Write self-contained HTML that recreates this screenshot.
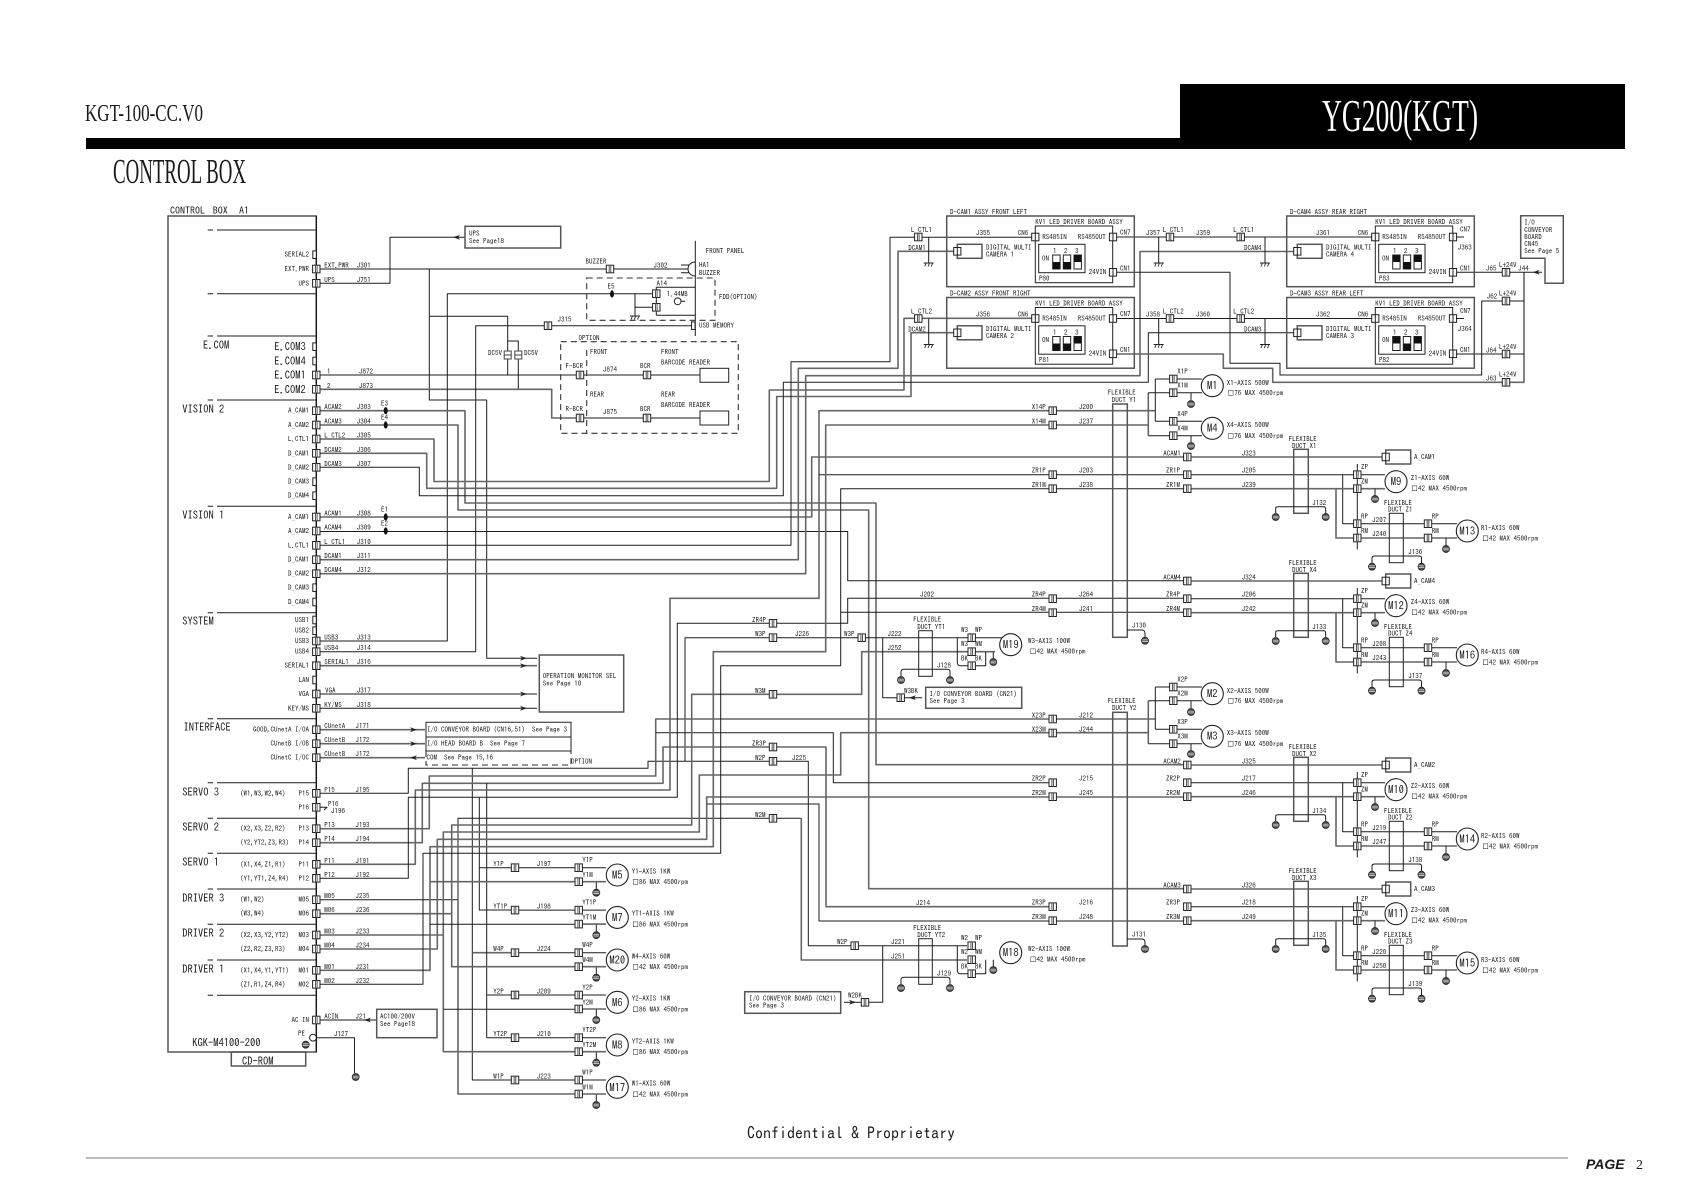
<!DOCTYPE html>
<html><head><meta charset="utf-8"><title>YG200(KGT) Control Box</title>
<style>
html,body{margin:0;padding:0;background:#fff}
svg{display:block}
text{font-family:"IPAGothic","Liberation Mono",monospace;font-size:7px;fill:#1a1a1a;white-space:pre}
.b{font-size:10.5px}
.m{font-size:10.5px;text-anchor:middle}
.e{text-anchor:end}
.w{fill:none;stroke:#1c1c1c;stroke-width:1;stroke-linejoin:round}
.g{fill:none;stroke:#666;stroke-width:1.6;stroke-linejoin:round}
.bx{fill:none;stroke:#555;stroke-width:1.5}
.kx{fill:none;stroke:#222;stroke-width:1}
.d{fill:none;stroke:#333;stroke-width:1.1;stroke-dasharray:6 4}
</style></head><body>
<svg width="1683" height="1190" viewBox="0 0 1683 1190" xmlns="http://www.w3.org/2000/svg">
<defs>
<g id="c"><rect x="-3.7" y="-3.8" width="7.4" height="7.6" fill="#fff" stroke="#222" stroke-width="1"/><path d="M-.8 -3.8V3.8M.8 -3.8V3.8" stroke="#555" stroke-width="1" fill="none"/></g>
<g id="h"><rect x="-3.5" y="-3.8" width="3.5" height="7.6" fill="#fff" stroke="#222"/></g>
<g id="bc"><rect x="-3.6" y="-3.8" width="7.2" height="7.6" fill="#fff" stroke="#222"/><path d="M0 -3.8V3.8" stroke="#222" fill="none"/></g>
<g id="v"><rect x="-3.5" y="-4" width="7" height="8" fill="#fff" stroke="#444"/><path d="M-3.5 0H3.5" stroke="#444" fill="none"/></g>
<g id="gd"><circle r="3.4" fill="#555" stroke="#222"/><path d="M-3 -.8H3M-3 .9H3" stroke="#ddd" stroke-width=".7" fill="none"/></g>
<g id="ht"><path d="M-5 0H5M-4 3.5L-2.5 0M-.7 3.5L.8 0M2.5 3.5L4 0" stroke="#222" stroke-width=".9" fill="none"/></g>
<circle id="mo" r="11" fill="#fff" stroke="#222" stroke-width="1.1"/>
<polygon id="ar" points="4,0 -3,-2.4 -1,0 -3,2.4" fill="#222"/>
<polygon id="al" points="-4,0 3,-2.4 1,0 3,2.4" fill="#222"/>
<g id="st"><rect x="0" y="0" width="7.4" height="14" fill="#fff" stroke="#222"/><rect x="0" y="0" width="7.4" height="7" fill="#111"/></g>
<g id="sb"><rect x="0" y="0" width="7.4" height="14" fill="#fff" stroke="#222"/><rect x="0" y="7" width="7.4" height="7" fill="#111"/></g>
<g id="dc">
<rect class="bx" x="946.7" y="216" width="187.6" height="70.7"/>
<rect class="kx" x="1035.3" y="226" width="77.4" height="56.7" stroke-width="1.3"/>
<rect class="bx" x="957.3" y="244.3" width="24.7" height="14"/>
<rect class="kx" x="1038.7" y="244.3" width="46.3" height="28.4"/>
<use href="#bc" x="957.3" y="251.3"/>
<use href="#bc" x="1035.3" y="237"/>
<use href="#bc" x="1113" y="237"/>
<use href="#bc" x="1113" y="272.3"/>
</g>
<g id="mod">
<path class="g" d="M1187 457H1386"/>
<path class="w" d="M1187 474.7H1385M1342.7 474.7V523.7H1457"/>
<path class="g" d="M1187 488.7H1385M1336 488.7V538H1457"/>
<path class="w" d="M1357.3 464V549.3"/>
<rect class="bx" x="1385.7" y="450" width="25" height="14" fill="none"/>
<use href="#bc" x="1385.7" y="457"/>
<rect class="bx" x="1293.7" y="449.3" width="14.6" height="64"/>
<rect class="kx" x="1389.3" y="513.3" width="14" height="49.4" stroke-width="1.3"/>
<path class="w" d="M1275.7 513V508Q1275.7 506.7 1278 506.7H1324Q1325.7 506.7 1325.7 510V514"/>
<path class="w" d="M1372 563V558Q1372 556 1375 556H1419Q1421.5 556 1421.5 558V563"/>
<path class="w" d="M1375 488.7V496M1446 538V546"/>
<use href="#gd" x="1275.7" y="517"/><use href="#gd" x="1325.7" y="517"/>
<use href="#gd" x="1372" y="566.7"/><use href="#gd" x="1421.5" y="566.7"/>
<use href="#gd" x="1375" y="499"/><use href="#gd" x="1446" y="549"/>
<use href="#c" x="1187.3" y="457"/><use href="#c" x="1052.7" y="474.7"/><use href="#c" x="1052.7" y="488.7"/>
<use href="#c" x="1187.3" y="474.7"/><use href="#c" x="1187.3" y="488.7"/>
<use href="#c" x="1357.3" y="474.7"/><use href="#c" x="1357.3" y="488.7"/>
<use href="#c" x="1357.3" y="523.7"/><use href="#c" x="1357.3" y="538"/>
<use href="#c" x="1428" y="523.7"/><use href="#c" x="1428" y="538"/>
<use href="#mo" x="1396" y="481.7"/><use href="#mo" x="1467.3" y="531"/>
</g>
<g id="xm">
<path class="w" d="M1155.3 379V421.3M1155.3 379H1202M1155.3 421.3H1202"/>
<path class="g" d="M1148.3 392.7V435.7"/>
<path class="w" d="M1148.3 392.7H1202M1148.3 435.7H1202M1191 392.7V400M1191 435.7V442"/>
<use href="#c" x="1173.3" y="379"/><use href="#c" x="1173.3" y="392.7"/><use href="#c" x="1173.3" y="421.3"/><use href="#c" x="1173.3" y="435.7"/>
<use href="#gd" x="1191" y="404"/><use href="#gd" x="1191" y="446"/>
<use href="#mo" x="1212.3" y="385.7"/><use href="#mo" x="1212.3" y="428.3"/>
</g>
<g id="ym">
<path class="w" d="M515 867.7H606M596.3 881.7V889"/>
<path class="g" d="M578.7 881.7H606"/>
<use href="#c" x="515" y="867.7"/><use href="#c" x="578.7" y="867.7"/><use href="#c" x="578.7" y="881.7"/>
<use href="#gd" x="596.3" y="892.7"/><use href="#mo" x="617.3" y="875"/>
</g>
<g id="nm">
<path class="w" d="M957.3 637.7V662Q957.3 665.7 960 665.7H985.7V651.7M993.3 651.7V658"/>
<rect class="kx" x="918.7" y="630.7" width="13.6" height="45.6" stroke-width="1.3"/>
<path class="w" d="M901 676V672Q901 669.3 904 669.3H947Q950 669.3 950 672V676"/>
<use href="#gd" x="901" y="680"/><use href="#gd" x="950" y="680"/><use href="#gd" x="993.3" y="662"/>
<use href="#c" x="971.7" y="637.7"/><use href="#c" x="971.7" y="651.7"/><use href="#c" x="971.7" y="665.7"/>
<use href="#mo" x="1010.7" y="644.7"/>
</g>
</defs>

<rect x="0" y="0" width="1683" height="1190" fill="#fff"/>
<rect x="1180" y="84" width="445" height="65" fill="#000"/>
<rect x="86" y="138" width="1539" height="11" fill="#000"/>
<text x="85" y="121" style="font-family:'Liberation Serif',serif;font-size:24px" textLength="118" lengthAdjust="spacingAndGlyphs">KGT-100-CC.V0</text>
<text x="1322" y="131" style="font-family:'Liberation Serif',serif;font-size:45px;fill:#fff" textLength="156" lengthAdjust="spacingAndGlyphs">YG200(KGT)</text>
<text x="113" y="183" style="font-family:'Liberation Serif',serif;font-size:35px" textLength="133" lengthAdjust="spacingAndGlyphs">CONTROL BOX</text>
<text x="747" y="1139" style="font-size:16px">Confidential &amp; Proprietary</text>
<rect x="86" y="1157" width="1482" height="2" fill="#bbb"/>
<text x="1586" y="1169" style="font-family:'Liberation Sans',sans-serif;font-style:italic;font-weight:bold;font-size:14px">PAGE</text>
<text x="1636" y="1169" style="font-family:'Liberation Serif',serif;font-size:14px">2</text>

<!-- main control box -->
<rect class="bx" x="168" y="216" width="148.3" height="836" stroke-width="2"/>
<path d="M316.3 216V1052" stroke="#111" stroke-width="1.2" fill="none"/>
<rect class="bx" x="231.3" y="1052" width="74.4" height="14"/>
<path class="w" d="M207.7 230H213M217 230H316M207.7 293.7H213M217 293.7H316M207.7 336H213M217 336H316M207.7 400H213M217 400H316M207.7 506.3H213M217 506.3H316M207.7 612.7H213M217 612.7H316M207.7 718.7H213M217 718.7H316M207.7 782.7H213M217 782.7H316M207.7 818.3H213M217 818.3H316M207.7 853.3H213M217 853.3H316M207.7 889H213M217 889H316M207.7 924.3H213M217 924.3H316M207.7 960H213M217 960H316M207.7 995.3H213M217 995.3H316"/>

<!-- wires -->
<path class="g" d="M320 269H688"/>
<path class="w" d="M429.3 269V400H486.7V658.3H537M429.3 316.3H507.7V375M320 283.3H390V237.3H465M320 375H700M518.3 389.3V341H507.7"/>
<path class="g" d="M320 389.3H551.7V418H700"/>
<path class="w" d="M320 641H447.3V293.7H656M635 293.7V307.3H656M635 307.3V316M320 651.7H475.7V325.7H693"/>
<path class="g" d="M320 665.7H537M320 694H537"/>
<path class="w" d="M320 708.3H537"/>
<path class="g" d="M320 410.7H465V503H876V764.7H1187"/>
<path class="g" d="M320 425H458V510H868.7V888.7H1187"/>
<path class="g" d="M320 439H434V481.5H769.3V390H904V318.3H1035"/>
<path class="g" d="M320 453.3H426.7V488.3H776.7V396.5H911V332.7H957"/>
<path class="w" d="M320 467.3H419.3V495.7H783.3V382.3H1148.3V332.7H1297"/>
<path class="g" d="M320 517H811.7V457H1187"/>
<path class="w" d="M320 531.5H847.7V580.7H1187"/>
<path class="w" d="M320 545.3H791V361.7H890V237.3H1035"/>
<path class="g" d="M320 559.7H798.3V368.3H898V251.3H957"/>
<path class="g" d="M320 573.7H805.7V375.7H1140V251.5H1297"/>
<path class="w" d="M1113 237H1375M1113 318.5H1375"/>
<path class="w" d="M928.7 237V263M1158.7 237V263M1265 237V263M928.7 318.5V344.5M1158.7 318.5V344.5M1265 318.5V344.5"/>
<path class="w" d="M1116 272.3H1230V363.3H1280V375H1481.7V301H1506"/>
<path class="g" d="M1116 354H1223.3V368.3H1272.7V382.3H1524V272.3"/>
<path class="w" d="M1456 272.3H1542M1456 354H1524M1506 301H1524"/>
<path class="g" d="M320 729.7H425M320 743.7H425M320 757.7H425"/>
<path class="w" d="M320 793.3H408.3V768.3H648V761.3H808.3V945.7H967M472.3 768.3V1080H578M685 761.3V637.7H1005"/>
<path class="g" d="M472.3 952.7H515"/>
<path class="g" d="M320 828.7H429.3V776H655.7V719H1155.3"/>
<path class="w" d="M655.7 732.7H833.3V782.7H1052"/>
<path class="g" d="M320 842.7H422.3V783.3H663V747H826V906.7H1052"/>
<path class="w" d="M486.7 783.3V1037.7H515M486.7 995H515"/>
<path class="g" d="M320 864.3H415.3V790H670V598.3H819V410.7H1155.3"/>
<path class="w" d="M819 474.7H1187M320 878.3H408.3V797.3H677.3V623.3H847.7V598.3H1187"/>
<path class="w" d="M479.3 797.3V910H515M479.3 867.7H515"/>
<path class="w" d="M320 899.7H458V818.3H801.3"/>
<path class="g" d="M801.3 818.3V960H967M458 899.7V1094H578"/>
<path class="g" d="M320 913.7H451.7V825H691.7V694.3H861.7V651.7H995M451.7 913.7V966.7H578"/>
<path class="g" d="M320 935H443.3V832H699.3V775H840.7V732.7H1148.3M443.3 935V1051.7H578"/>
<path class="w" d="M443.3 1009.3H578"/>
<path class="g" d="M320 949H437.3V839.3H706.7V797H1187"/>
<path class="w" d="M706.7 804H819V921H1052"/>
<path class="g" d="M1052 921H1187M320 970.3H430V846.7H713.3V651.7H825.7V425H1148.3M430 881.7H578"/>
<path class="w" d="M430 924.3H578M320 984.3H423V853.3H720.7V665.7H840.7V488.7H1187M840.7 612.3H1187"/>
<path class="w" d="M882.7 637.7V697.7H922M882.7 945.7V1002.3H860"/>
<path class="g" d="M320 1020H376"/>
<path class="w" d="M316 1037.7H354.5V1073"/>
<path class="w" d="M320 807.3H327L324 810"/>

<!-- front panel / FDD -->
<path class="w" d="M695.3 240.7V336M656.3 287.3V315.3M656.3 287.3H695M656.3 315.3H695M681 265H689M681 272.7H689M695 262A7 7 0 0 0 695 276M681 301.3H685M681 301.3"/>
<circle cx="677.7" cy="301.3" r="3.4" fill="#fff" stroke="#222"/>
<ellipse cx="612" cy="294" rx="2" ry="3.6" fill="#111"/>
<use href="#ht" x="635" y="316"/>
<rect class="d" x="586.7" y="278" width="128.3" height="42.3"/>
<rect class="d" x="560.7" y="341.7" width="177.6" height="91.6" stroke-dasharray="5 4"/>
<path class="d" d="M586.7 350V433" stroke-dasharray="4 4"/>
<rect class="kx" x="700" y="368.3" width="28.7" height="14" stroke-width="1.2"/>
<rect class="kx" x="700" y="411" width="28.7" height="14" stroke-width="1.2"/>
<use href="#c" x="610" y="269"/><use href="#c" x="656.3" y="293.7"/><use href="#c" x="656.3" y="307.3"/>
<use href="#c" x="548" y="325.7"/><use href="#h" x="695" y="325.7"/>
<use href="#c" x="580" y="375"/><use href="#c" x="647" y="375"/><use href="#c" x="580" y="418"/><use href="#c" x="647" y="418"/>
<use href="#v" x="507.7" y="355"/><use href="#v" x="518.3" y="355"/>
<!-- ellipse fuses -->
<ellipse cx="385.7" cy="410.7" rx="2" ry="3.6" fill="#111"/><ellipse cx="385.7" cy="425" rx="2" ry="3.6" fill="#111"/><ellipse cx="385.7" cy="517" rx="2" ry="3.6" fill="#111"/><ellipse cx="385.7" cy="531" rx="2" ry="3.6" fill="#111"/>

<!-- other boxes -->
<rect class="bx" x="465" y="226.3" width="95.7" height="21.7"/>
<rect class="bx" x="539.3" y="655" width="84.4" height="57"/>
<path class="kx" d="M426 751V722.3H571V751M426 737H571M426 751H571"/>
<path class="d" d="M426 751V765H571V751" stroke-dasharray="5 5"/>
<rect class="bx" x="376.7" y="1009.3" width="60.3" height="28.4"/>
<rect class="bx" x="925.7" y="687.3" width="96" height="21"/>
<rect class="bx" x="744.7" y="991.7" width="96" height="21.6"/>
<path class="bx" d="M1520.7 215.7H1563.3V283.3H1545V258.3H1520.7Z"/>
<path class="w" d="M844 1002.3H860"/>
<use href="#ar" x="852" y="1002.3"/><use href="#al" x="913" y="697.7"/>
<use href="#al" x="457" y="237.3"/><use href="#ar" x="523" y="658.3"/><use href="#ar" x="523" y="665.7"/><use href="#ar" x="523" y="694"/><use href="#ar" x="523" y="708.3"/>
<use href="#ar" x="413" y="729.7"/><use href="#ar" x="413" y="743.7"/><use href="#al" x="414" y="757.7"/><use href="#al" x="368" y="1020"/><use href="#al" x="1536.7" y="272.3"/>

<!-- D-CAM boards -->
<use href="#dc"/><use href="#dc" y="81.5"/><use href="#dc" x="340"/><use href="#dc" x="340" y="81.5"/>
<use href="#sb" x="1052.7" y="255"/><use href="#sb" x="1063.3" y="255"/><use href="#st" x="1074" y="255"/>
<use href="#sb" x="1052.7" y="336.5"/><use href="#sb" x="1063.3" y="336.5"/><use href="#st" x="1074" y="336.5"/>
<use href="#st" x="1392.7" y="255"/><use href="#sb" x="1403.3" y="255"/><use href="#st" x="1414" y="255"/>
<use href="#st" x="1392.7" y="336.5"/><use href="#sb" x="1403.3" y="336.5"/><use href="#st" x="1414" y="336.5"/>
<path class="w" d="M1456 237H1464M1456 318.5H1464"/>
<use href="#c" x="918.3" y="237"/><use href="#c" x="918.3" y="318.5"/><use href="#c" x="1170" y="237"/><use href="#c" x="1170" y="318.5"/><use href="#c" x="1240.7" y="237"/><use href="#c" x="1240.7" y="318.5"/>
<use href="#c" x="1506" y="272.3"/><use href="#c" x="1506" y="301"/><use href="#c" x="1506" y="354"/><use href="#c" x="1506" y="382.3"/>
<use href="#ht" x="928.7" y="263"/><use href="#ht" x="1158.7" y="263"/><use href="#ht" x="1265" y="263"/><use href="#ht" x="928.7" y="344.5"/><use href="#ht" x="1158.7" y="344.5"/><use href="#ht" x="1265" y="344.5"/>

<!-- ducts Y -->
<rect class="bx" x="1112.7" y="404" width="14.6" height="233.3"/>
<rect class="bx" x="1112.7" y="712.3" width="14.6" height="233.7"/>
<path class="w" d="M1127 630H1142Q1145 630 1145 634V637M1127 939H1142Q1145 939 1145 943V946"/>
<use href="#gd" x="1145" y="640.7"/><use href="#gd" x="1145" y="949"/>
<use href="#c" x="1052.7" y="410.7"/><use href="#c" x="1052.7" y="425"/><use href="#c" x="1052.7" y="719"/><use href="#c" x="1052.7" y="733"/>
<use href="#xm"/><use href="#xm" y="308"/>
<use href="#mod"/><use href="#mod" y="124"/><use href="#mod" y="308"/><use href="#mod" y="432"/>
<use href="#ym"/><use href="#ym" y="42.4"/><use href="#ym" y="85"/><use href="#ym" y="127.3"/><use href="#ym" y="170"/><use href="#ym" y="212.3"/>
<use href="#nm"/><use href="#nm" y="308"/>
<use href="#c" x="773" y="623.3"/><use href="#c" x="773" y="637.7"/><use href="#c" x="773" y="694.3"/><use href="#c" x="773" y="747"/><use href="#c" x="773" y="761.3"/><use href="#c" x="773" y="818.3"/>
<use href="#c" x="861.7" y="637.7"/><use href="#c" x="854.7" y="945.7"/><use href="#c" x="900.7" y="697.7"/><use href="#c" x="865" y="1002.3"/>

<!-- pins -->
<use href="#h" x="316.3" y="254.7"/><use href="#c" x="316.3" y="269"/><use href="#c" x="316.3" y="283.3"/>
<use href="#h" x="316.3" y="346.7"/><use href="#h" x="316.3" y="361"/><use href="#c" x="316.3" y="375"/><use href="#c" x="316.3" y="389.3"/>
<use href="#c" x="316.3" y="410.7"/><use href="#c" x="316.3" y="425"/><use href="#c" x="316.3" y="439"/><use href="#c" x="316.3" y="453.3"/><use href="#c" x="316.3" y="467.3"/><use href="#h" x="316.3" y="481.7"/><use href="#h" x="316.3" y="495.7"/>
<use href="#c" x="316.3" y="517"/><use href="#c" x="316.3" y="531"/><use href="#c" x="316.3" y="545.3"/><use href="#c" x="316.3" y="559.7"/><use href="#c" x="316.3" y="573.7"/><use href="#h" x="316.3" y="587.7"/><use href="#h" x="316.3" y="602"/>
<use href="#h" x="316.3" y="620"/><use href="#h" x="316.3" y="630.7"/><use href="#c" x="316.3" y="641"/><use href="#c" x="316.3" y="651.7"/><use href="#c" x="316.3" y="665.7"/><use href="#h" x="316.3" y="680"/><use href="#c" x="316.3" y="694"/><use href="#c" x="316.3" y="708.3"/>
<use href="#c" x="316.3" y="729.7"/><use href="#c" x="316.3" y="743.7"/><use href="#c" x="316.3" y="757.7"/>
<use href="#c" x="316.3" y="793.3"/><use href="#c" x="316.3" y="807.3"/><use href="#c" x="316.3" y="828.7"/><use href="#c" x="316.3" y="842.7"/><use href="#c" x="316.3" y="864.3"/><use href="#c" x="316.3" y="878.3"/>
<use href="#c" x="316.3" y="899.7"/><use href="#c" x="316.3" y="913.7"/><use href="#c" x="316.3" y="935"/><use href="#c" x="316.3" y="949"/><use href="#c" x="316.3" y="970.3"/><use href="#c" x="316.3" y="984.3"/>
<use href="#c" x="316.3" y="1020"/>
<circle cx="313" cy="1037.7" r="3.4" fill="#fff" stroke="#222"/>
<use href="#gd" x="305.7" y="1044.7"/><use href="#gd" x="355.7" y="1077"/>

<!-- left panel labels -->
<text x="170" y="214" style="font-size:10px">CONTROL</text><text x="212.7" y="214" style="font-size:10px">BOX</text><text x="239" y="214" style="font-size:10px">A1</text>
<text class="b" x="203" y="349">E.COM</text>
<text class="b" x="182.3" y="413">VISION 2</text>
<text class="b" x="182.3" y="519">VISION 1</text>
<text class="b" x="182.3" y="625">SYSTEM</text>
<text class="b" x="183.5" y="731">INTERFACE</text>
<text class="b" x="182.3" y="796">SERVO 3</text>
<text class="b" x="182.3" y="831">SERVO 2</text>
<text class="b" x="182.3" y="866">SERVO 1</text>
<text class="b" x="182.3" y="902">DRIVER 3</text>
<text class="b" x="182.3" y="937">DRIVER 2</text>
<text class="b" x="182.3" y="973">DRIVER 1</text>
<text class="b" x="192.3" y="1046.5">KGK-M4100-200</text>
<text class="b" x="242" y="1065">CD-ROM</text>
<g class="e">
<text class="e" x="309" y="257.2">SERIAL2</text><text class="e" x="309" y="271.5">EXT.PWR</text><text class="e" x="309" y="285.8">UPS</text>
<text class="b e" x="305.7" y="350.7">E.COM3</text><text class="b e" x="305.7" y="365">E.COM4</text><text class="b e" x="305.7" y="379">E.COM1</text><text class="b e" x="305.7" y="393.3">E.COM2</text>
<text class="e" x="309" y="413.2">A_CAM1</text><text class="e" x="309" y="427.5">A_CAM2</text><text class="e" x="309" y="441.5">L.CTL1</text><text class="e" x="309" y="455.8">D_CAM1</text><text class="e" x="309" y="469.8">D_CAM2</text><text class="e" x="309" y="484.2">D_CAM3</text><text class="e" x="309" y="498.2">D_CAM4</text>
<text class="e" x="309" y="519.5">A_CAM1</text><text class="e" x="309" y="533.5">A_CAM2</text><text class="e" x="309" y="547.8">L.CTL1</text><text class="e" x="309" y="562.2">D_CAM1</text><text class="e" x="309" y="576.2">D_CAM2</text><text class="e" x="309" y="590.2">D_CAM3</text><text class="e" x="309" y="604.5">D_CAM4</text>
<text class="e" x="309" y="622.5">USB1</text><text class="e" x="309" y="633.2">USB2</text><text class="e" x="309" y="643.5">USB3</text><text class="e" x="309" y="654.2">USB4</text><text class="e" x="309" y="668.2">SERIAL1</text><text class="e" x="309" y="682.5">LAN</text><text class="e" x="309" y="696.5">VGA</text><text class="e" x="309" y="710.8">KEY/MS</text>
<text class="e" x="309" y="732.2">GOOD,CUnetA I/OA</text><text class="e" x="309" y="746.2">CUnetB I/OB</text><text class="e" x="309" y="760.2">CUnetC I/OC</text>
<text class="e" x="309" y="795.8">P15</text><text class="e" x="309" y="809.8">P16</text><text class="e" x="309" y="831.2">P13</text><text class="e" x="309" y="845.2">P14</text><text class="e" x="309" y="866.8">P11</text><text class="e" x="309" y="880.8">P12</text>
<text class="e" x="309" y="902.2">M05</text><text class="e" x="309" y="916.2">M06</text><text class="e" x="309" y="937.5">M03</text><text class="e" x="309" y="951.5">M04</text><text class="e" x="309" y="972.8">M01</text><text class="e" x="309" y="986.8">M02</text>
<text class="e" x="309" y="1022.5">AC IN</text><text class="e" x="305" y="1036">PE</text>
</g>
<text x="240" y="795.8">(W1,W3,W2,W4)</text><text x="240" y="831.2">(X2,X3,Z2,R2)</text><text x="240" y="845.2">(Y2,YT2,Z3,R3)</text><text x="240" y="866.8">(X1,X4,Z1,R1)</text><text x="240" y="880.8">(Y1,YT1,Z4,R4)</text>
<text x="240" y="902.2">(W1,W2)</text><text x="240" y="916.2">(W3,W4)</text><text x="240" y="937.5">(X2,X3,Y2,YT2)</text><text x="240" y="951.5">(Z2,R2,Z3,R3)</text><text x="240" y="972.8">(X1,X4,Y1,YT1)</text><text x="240" y="986.8">(Z1,R1,Z4,R4)</text>

<!-- wire labels left -->
<text x="324.3" y="268">EXT.PWR</text><text x="356.7" y="268">J301</text>
<text x="324.3" y="282.3">UPS</text><text x="356.7" y="282.3">J751</text>
<text x="327" y="374">1</text><text x="359" y="374">J872</text><text x="327" y="388.3">2</text><text x="359" y="388.3">J873</text>
<text x="324.3" y="409.7">ACAM2</text><text x="356.7" y="409.7">J303</text><text x="381" y="406">E3</text>
<text x="324.3" y="424">ACAM3</text><text x="356.7" y="424">J304</text><text x="381" y="420">E4</text>
<text x="324.3" y="438">L_CTL2</text><text x="356.7" y="438">J305</text>
<text x="324.3" y="452.3">DCAM2</text><text x="356.7" y="452.3">J306</text>
<text x="324.3" y="466.3">DCAM3</text><text x="356.7" y="466.3">J307</text>
<text x="324.3" y="516">ACAM1</text><text x="356.7" y="516">J308</text><text x="381" y="512">E1</text>
<text x="324.3" y="530">ACAM4</text><text x="356.7" y="530">J309</text><text x="381" y="526">E2</text>
<text x="324.3" y="544.3">L_CTL1</text><text x="356.7" y="544.3">J310</text>
<text x="324.3" y="558.7">DCAM1</text><text x="356.7" y="558.7">J311</text>
<text x="324.3" y="572.7">DCAM4</text><text x="356.7" y="572.7">J312</text>
<text x="324.3" y="640">USB3</text><text x="356.7" y="640">J313</text>
<text x="324.3" y="650.7">USB4</text><text x="356.7" y="650.7">J314</text>
<text x="324.3" y="664.7">SERIAL1</text><text x="356.7" y="664.7">J316</text>
<text x="325" y="693">VGA</text><text x="356.7" y="693">J317</text>
<text x="324.3" y="707.3">KY/MS</text><text x="356.7" y="707.3">J318</text>
<text x="324.3" y="728.7">CUnetA</text><text x="355.5" y="728.7">J171</text>
<text x="324.3" y="742.7">CUnetB</text><text x="355.5" y="742.7">J172</text>
<text x="324.3" y="756.7">CUnetB</text><text x="355.5" y="756.7">J172</text>
<text x="324.3" y="792.3">P15</text><text x="355.5" y="792.3">J195</text>
<text x="328" y="806.5">P16</text><text x="331" y="813.5">J196</text>
<text x="324.3" y="827.7">P13</text><text x="355.5" y="827.7">J193</text>
<text x="324.3" y="841.7">P14</text><text x="355.5" y="841.7">J194</text>
<text x="324.3" y="863.3">P11</text><text x="355.5" y="863.3">J191</text>
<text x="324.3" y="877.3">P12</text><text x="355.5" y="877.3">J192</text>
<text x="324.3" y="898.7">M05</text><text x="355.5" y="898.7">J235</text>
<text x="324.3" y="912.7">M06</text><text x="355.5" y="912.7">J236</text>
<text x="324.3" y="934">M03</text><text x="355.5" y="934">J233</text>
<text x="324.3" y="948">M04</text><text x="355.5" y="948">J234</text>
<text x="324.3" y="969.3">M01</text><text x="355.5" y="969.3">J231</text>
<text x="324.3" y="983.3">M02</text><text x="355.5" y="983.3">J232</text>
<text x="324.3" y="1019">ACIN</text><text x="355.5" y="1019">J21</text>
<text x="334" y="1036.7">J127</text>

<!-- boxes text -->
<text x="469" y="236">UPS</text><text x="469" y="243.5">See Page18</text>
<text x="542.7" y="678.5">OPERATION MONITOR SEL</text><text x="542.7" y="686">See Page 10</text>
<text x="427" y="732.2">I/O CONVEYOR BOARD (CN16,51)  See Page 3</text>
<text x="427" y="746.2">I/O HEAD BOARD B  See Page 7</text>
<text x="426.5" y="760.2">COM  See Page 15,16</text>
<text x="571" y="764">OPTION</text>
<text x="380" y="1019">AC100/200V</text><text x="380" y="1026.5">See Page18</text>
<text x="929.5" y="696.5">I/O CONVEYOR BOARD (CN21)</text><text x="929.5" y="703.5">See Page 3</text>
<text x="749" y="1001">I/O CONVEYOR BOARD (CN21)</text><text x="749" y="1008">See Page 3</text>
<text x="1524.3" y="225">I/O</text><text x="1524.3" y="232.5">CONVEYOR</text><text x="1524.3" y="239.5">BOARD</text><text x="1524.3" y="246.5">CN45</text><text x="1524.3" y="253.5">See Page 5</text>

<text x="705.7" y="253.5">FRONT PANEL</text><text x="699" y="267.5">HA1</text><text x="699" y="275.5">BUZZER</text><text x="719" y="299.5">FDD(OPTION)</text><text x="699" y="328">USB MEMORY</text><text x="666.7" y="296.5">1.44MB</text><text x="656.5" y="286">A14</text><text x="607.5" y="289">E5</text><text x="585.5" y="264">BUZZER</text><text x="653.5" y="268">J302</text><text x="557.5" y="322">J315</text>
<text x="575" y="340.5">_OPTION_</text><text x="590" y="354.5">FRONT</text><text x="661" y="354.5">FRONT</text><text x="661" y="365">BARCODE READER</text><text x="565.5" y="368.5">F-BCR</text><text x="603" y="372">J874</text><text x="640" y="368.5">BCR</text>
<text x="590" y="397">REAR</text><text x="661" y="397">REAR</text><text x="661" y="407.5">BARCODE READER</text><text x="565.5" y="411.5">R-BCR</text><text x="603" y="414.5">J875</text><text x="640" y="411.5">BCR</text>
<text x="488" y="355.5">DC5V</text><text x="524" y="355.5">DC5V</text>

<!-- D-CAM labels -->
<g>
<text x="950" y="214.5">D-CAM1 ASSY FRONT LEFT</text><text x="1035.3" y="224.5">KV1 LED_DRIVER BOARD ASSY</text><text x="976" y="235.5">J355</text><text x="1017.7" y="235.5">CN6</text><text x="1042.3" y="239.5">RS485IN</text><text x="1077.7" y="239.5">RS485OUT</text><text x="1120" y="235">CN7</text><text x="986" y="250">DIGITAL MULTI</text><text x="986" y="257">CAMERA 1</text><text x="1042" y="261">ON</text><text x="1053" y="253.5">1</text><text x="1064" y="253.5">2</text><text x="1075" y="253.5">3</text><text x="1039" y="281">P80</text><text x="1088.7" y="274.5">24VIN</text><text x="1120" y="271">CN1</text>
<text x="911" y="232.5">L_CTL1</text><text x="908.3" y="250.5">DCAM1</text><text x="1146" y="235.7">J357</text><text x="1162.7" y="232.5">L_CTL1</text><text x="1196" y="235.5">J359</text><text x="1233.3" y="232.5">L_CTL1</text><text x="1244" y="250.5">DCAM4</text>
</g>
<g transform="translate(0,81.5)">
<text x="950" y="214.5">D-CAM2 ASSY FRONT RIGHT</text><text x="1035.3" y="224.5">KV1 LED_DRIVER BOARD ASSY</text><text x="976" y="235.5">J356</text><text x="1017.7" y="235.5">CN6</text><text x="1042.3" y="239.5">RS485IN</text><text x="1077.7" y="239.5">RS485OUT</text><text x="1120" y="235">CN7</text><text x="986" y="250">DIGITAL MULTI</text><text x="986" y="257">CAMERA 2</text><text x="1042" y="261">ON</text><text x="1053" y="253.5">1</text><text x="1064" y="253.5">2</text><text x="1075" y="253.5">3</text><text x="1039" y="281">P81</text><text x="1088.7" y="274.5">24VIN</text><text x="1120" y="271">CN1</text>
<text x="911" y="232.5">L_CTL2</text><text x="908.3" y="250.5">DCAM2</text><text x="1146" y="235.7">J358</text><text x="1162.7" y="232.5">L_CTL2</text><text x="1196" y="235.5">J360</text><text x="1233.3" y="232.5">L_CTL2</text><text x="1244" y="250.5">DCAM3</text>
</g>
<g transform="translate(340,0)">
<text x="950" y="214.5">D-CAM4 ASSY REAR RIGHT</text><text x="1035.3" y="224.5">KV1 LED_DRIVER BOARD ASSY</text><text x="976" y="235.5">J361</text><text x="1017.7" y="235.5">CN6</text><text x="1042.3" y="239.5">RS485IN</text><text x="1077.7" y="239.5">RS485OUT</text><text x="1120" y="232">CN7</text><text x="1117.7" y="250">J363</text><text x="986" y="250">DIGITAL MULTI</text><text x="986" y="257">CAMERA 4</text><text x="1042" y="261">ON</text><text x="1053" y="253.5">1</text><text x="1064" y="253.5">2</text><text x="1075" y="253.5">3</text><text x="1039" y="281">P83</text><text x="1088.7" y="274.5">24VIN</text><text x="1120" y="271">CN1</text>
</g>
<g transform="translate(340,81.5)">
<text x="950" y="214.5">D-CAM3 ASSY REAR LEFT</text><text x="1035.3" y="224.5">KV1 LED_DRIVER BOARD ASSY</text><text x="976" y="235.5">J362</text><text x="1017.7" y="235.5">CN6</text><text x="1042.3" y="239.5">RS485IN</text><text x="1077.7" y="239.5">RS485OUT</text><text x="1120" y="232">CN7</text><text x="1117.7" y="250">J364</text><text x="986" y="250">DIGITAL MULTI</text><text x="986" y="257">CAMERA 3</text><text x="1042" y="261">ON</text><text x="1053" y="253.5">1</text><text x="1064" y="253.5">2</text><text x="1075" y="253.5">3</text><text x="1039" y="281">P82</text><text x="1088.7" y="274.5">24VIN</text><text x="1120" y="271">CN1</text>
</g>
<text x="1486" y="271">J65</text><text x="1499" y="267.5">L+24V</text><text x="1518.3" y="271">J44</text><text x="1486.7" y="299">J62</text><text x="1499" y="296">L+24V</text><text x="1486" y="353">J64</text><text x="1499" y="349.7">L+24V</text><text x="1486" y="381">J63</text><text x="1499" y="377">L+24V</text>

<!-- X / Y1 labels -->
<text x="1031.7" y="409.7">X14P</text><text x="1079" y="409.7">J200</text><text x="1031.7" y="424">X14M</text><text x="1079" y="424">J237</text>
<text x="1107.7" y="395.2">FLEXIBLE</text><text x="1111.7" y="402.5">DUCT Y1</text><text x="1132" y="628">J130</text>
<text x="1031.7" y="718">X23P</text><text x="1079" y="718">J212</text><text x="1031.7" y="732">X23M</text><text x="1079" y="732">J244</text>
<text x="1107.7" y="703.5">FLEXIBLE</text><text x="1112" y="710.5">DUCT Y2</text><text x="1132" y="937">J131</text>
<g>
<text x="1177.3" y="374">X1P</text><text x="1177.3" y="388">X1M</text><text x="1177.3" y="416.5">X4P</text><text x="1177.3" y="431">X4M</text>
<text class="m" x="1212.3" y="389.5">M1</text><text class="m" x="1212.3" y="432">M4</text>
<text x="1226.7" y="385.5">X1-AXIS 500W</text><text x="1227.3" y="395.5">□76 MAX 4500rpm</text><text x="1226.7" y="427.5">X4-AXIS 500W</text><text x="1227.3" y="438.5">□76 MAX 4500rpm</text>
</g>
<g transform="translate(0,308)">
<text x="1177.3" y="374">X2P</text><text x="1177.3" y="388">X2M</text><text x="1177.3" y="416.5">X3P</text><text x="1177.3" y="431">X3M</text>
<text class="m" x="1212.3" y="389.5">M2</text><text class="m" x="1212.3" y="432">M3</text>
<text x="1226.7" y="385.5">X2-AXIS 500W</text><text x="1227.3" y="395.5">□76 MAX 4500rpm</text><text x="1226.7" y="427.5">X3-AXIS 500W</text><text x="1227.3" y="438.5">□76 MAX 4500rpm</text>
</g>

<!-- Z/R modules labels -->
<g>
<text x="1163.3" y="456">ACAM1</text><text x="1241.7" y="456">J323</text><text x="1166" y="473">ZR1P</text><text x="1241.7" y="473">J205</text><text x="1166" y="487.5">ZR1M</text><text x="1241.7" y="487.5">J239</text>
<text x="1031.7" y="473">ZR1P</text><text x="1079" y="473">J203</text><text x="1031.7" y="487.5">ZR1M</text><text x="1079" y="487.5">J238</text>
<text x="1288.7" y="441.5">FLEXIBLE</text><text x="1292" y="448.5">DUCT X1</text><text x="1312.3" y="505.5">J132</text><text x="1414" y="459.5">A_CAM1</text>
<text x="1361" y="469.5">ZP</text><text x="1361" y="484">ZM</text><text x="1361" y="519">RP</text><text x="1361" y="533.5">RM</text><text x="1372.3" y="522.5">J207</text><text x="1372.3" y="536.5">J240</text><text x="1431.7" y="519">RP</text><text x="1431.7" y="533.5">RM</text><text x="1408.3" y="554.5">J136</text>
<text x="1384" y="505.5">FLEXIBLE</text><text x="1388" y="512">DUCT Z1</text>
<text class="m" x="1396" y="485.5">M9</text><text class="m" x="1467.3" y="534.8">M13</text>
<text x="1410.7" y="480.5">Z1-AXIS 60W</text><text x="1411" y="491">□42 MAX 4500rpm</text><text x="1481" y="530.5">R1-AXIS 60W</text><text x="1482" y="541">□42 MAX 4500rpm</text>
</g>
<g transform="translate(0,124)">
<text x="1163.3" y="456">ACAM4</text><text x="1241.7" y="456">J324</text><text x="1166" y="473">ZR4P</text><text x="1241.7" y="473">J206</text><text x="1166" y="487.5">ZR4M</text><text x="1241.7" y="487.5">J242</text>
<text x="1031.7" y="473">ZR4P</text><text x="1079" y="473">J264</text><text x="1031.7" y="487.5">ZR4M</text><text x="1079" y="487.5">J241</text>
<text x="1288.7" y="441.5">FLEXIBLE</text><text x="1292" y="448.5">DUCT X4</text><text x="1312.3" y="505.5">J133</text><text x="1414" y="459.5">A_CAM4</text>
<text x="1361" y="469.5">ZP</text><text x="1361" y="484">ZM</text><text x="1361" y="519">RP</text><text x="1361" y="533.5">RM</text><text x="1372.3" y="522.5">J208</text><text x="1372.3" y="536.5">J243</text><text x="1431.7" y="519">RP</text><text x="1431.7" y="533.5">RM</text><text x="1408.3" y="554.5">J137</text>
<text x="1384" y="505.5">FLEXIBLE</text><text x="1388" y="512">DUCT Z4</text>
<text class="m" x="1396" y="485.5">M12</text><text class="m" x="1467.3" y="534.8">M16</text>
<text x="1410.7" y="480.5">Z4-AXIS 60W</text><text x="1411" y="491">□42 MAX 4500rpm</text><text x="1481" y="530.5">R4-AXIS 60W</text><text x="1482" y="541">□42 MAX 4500rpm</text>
</g>
<g transform="translate(0,308)">
<text x="1163.3" y="456">ACAM2</text><text x="1241.7" y="456">J325</text><text x="1166" y="473">ZR2P</text><text x="1241.7" y="473">J217</text><text x="1166" y="487.5">ZR2M</text><text x="1241.7" y="487.5">J246</text>
<text x="1031.7" y="473">ZR2P</text><text x="1079" y="473">J215</text><text x="1031.7" y="487.5">ZR2M</text><text x="1079" y="487.5">J245</text>
<text x="1288.7" y="441.5">FLEXIBLE</text><text x="1292" y="448.5">DUCT X2</text><text x="1312.3" y="505.5">J134</text><text x="1414" y="459.5">A_CAM2</text>
<text x="1361" y="469.5">ZP</text><text x="1361" y="484">ZM</text><text x="1361" y="519">RP</text><text x="1361" y="533.5">RM</text><text x="1372.3" y="522.5">J219</text><text x="1372.3" y="536.5">J247</text><text x="1431.7" y="519">RP</text><text x="1431.7" y="533.5">RM</text><text x="1408.3" y="554.5">J138</text>
<text x="1384" y="505.5">FLEXIBLE</text><text x="1388" y="512">DUCT Z2</text>
<text class="m" x="1396" y="485.5">M10</text><text class="m" x="1467.3" y="534.8">M14</text>
<text x="1410.7" y="480.5">Z2-AXIS 60W</text><text x="1411" y="491">□42 MAX 4500rpm</text><text x="1481" y="530.5">R2-AXIS 60W</text><text x="1482" y="541">□42 MAX 4500rpm</text>
</g>
<g transform="translate(0,432)">
<text x="1163.3" y="456">ACAM3</text><text x="1241.7" y="456">J326</text><text x="1166" y="473">ZR3P</text><text x="1241.7" y="473">J218</text><text x="1166" y="487.5">ZR3M</text><text x="1241.7" y="487.5">J249</text>
<text x="1031.7" y="473">ZR3P</text><text x="1079" y="473">J216</text><text x="1031.7" y="487.5">ZR3M</text><text x="1079" y="487.5">J248</text>
<text x="1288.7" y="441.5">FLEXIBLE</text><text x="1292" y="448.5">DUCT X3</text><text x="1312.3" y="505.5">J135</text><text x="1414" y="459.5">A_CAM3</text>
<text x="1361" y="469.5">ZP</text><text x="1361" y="484">ZM</text><text x="1361" y="519">RP</text><text x="1361" y="533.5">RM</text><text x="1372.3" y="522.5">J220</text><text x="1372.3" y="536.5">J250</text><text x="1431.7" y="519">RP</text><text x="1431.7" y="533.5">RM</text><text x="1408.3" y="554.5">J139</text>
<text x="1384" y="505.5">FLEXIBLE</text><text x="1388" y="512">DUCT Z3</text>
<text class="m" x="1396" y="485.5">M11</text><text class="m" x="1467.3" y="534.8">M15</text>
<text x="1410.7" y="480.5">Z3-AXIS 60W</text><text x="1411" y="491">□42 MAX 4500rpm</text><text x="1481" y="530.5">R3-AXIS 60W</text><text x="1482" y="541">□42 MAX 4500rpm</text>
</g>

<!-- Y axis motor labels -->
<g>
<text x="493.3" y="866.7">Y1P</text><text x="536.7" y="866.7">J197</text><text x="582.3" y="862.7">Y1P</text><text x="582.3" y="877.5">Y1M</text><text class="m" x="617.3" y="879">M5</text><text x="631.7" y="873.8">Y1-AXIS 1KW</text><text x="632" y="884.5">□86 MAX 4500rpm</text>
</g>
<g transform="translate(0,42.4)">
<text x="493.3" y="866.7">YT1P</text><text x="536.7" y="866.7">J198</text><text x="582.3" y="862.7">YT1P</text><text x="582.3" y="877.5">YT1M</text><text class="m" x="617.3" y="879">M7</text><text x="631.7" y="873.8">YT1-AXIS 1KW</text><text x="632" y="884.5">□86 MAX 4500rpm</text>
</g>
<g transform="translate(0,85)">
<text x="493.3" y="866.7">W4P</text><text x="536.7" y="866.7">J224</text><text x="582.3" y="862.7">W4P</text><text x="582.3" y="877.5">W4M</text><text class="m" x="617.3" y="879">M20</text><text x="631.7" y="873.8">W4-AXIS 60W</text><text x="632" y="884.5">□42 MAX 4500rpm</text>
</g>
<g transform="translate(0,127.3)">
<text x="493.3" y="866.7">Y2P</text><text x="536.7" y="866.7">J209</text><text x="582.3" y="862.7">Y2P</text><text x="582.3" y="877.5">Y2M</text><text class="m" x="617.3" y="879">M6</text><text x="631.7" y="873.8">Y2-AXIS 1KW</text><text x="632" y="884.5">□86 MAX 4500rpm</text>
</g>
<g transform="translate(0,170)">
<text x="493.3" y="866.7">YT2P</text><text x="536.7" y="866.7">J210</text><text x="582.3" y="862.7">YT2P</text><text x="582.3" y="877.5">YT2M</text><text class="m" x="617.3" y="879">M8</text><text x="631.7" y="873.8">YT2-AXIS 1KW</text><text x="632" y="884.5">□86 MAX 4500rpm</text>
</g>
<g transform="translate(0,212.3)">
<text x="493.3" y="866.7">W1P</text><text x="536.7" y="866.7">J223</text><text x="582.3" y="862.7">W1P</text><text x="582.3" y="877.5">W1M</text><text class="m" x="617.3" y="879">M17</text><text x="631.7" y="873.8">W1-AXIS 60W</text><text x="632" y="884.5">□42 MAX 4500rpm</text>
</g>

<!-- mid labels -->
<text x="752" y="622.3">ZR4P</text><text x="755" y="636.7">W3P</text><text x="795" y="636.7">J226</text><text x="755" y="693.3">W3M</text><text x="752" y="746">ZR3P</text><text x="755" y="760.3">W2P</text><text x="792" y="760.3">J225</text><text x="755" y="817.3">W2M</text>
<text x="844" y="636.7">W3P</text><text x="887.5" y="636.7">J222</text><text x="887.5" y="650.7">J252</text><text x="904" y="693.5">W3BK</text>
<text x="913.3" y="622">FLEXIBLE</text><text x="917.3" y="629.5">DUCT YT1</text><text x="937" y="668">J128</text>
<text x="961" y="632.5">W3  WP</text><text x="961" y="646.5">W3  WM</text><text x="961" y="661">BK  BK</text>
<text class="m" x="1010.7" y="648.5">M19</text><text x="1028" y="643.5">W3-AXIS 100W</text><text x="1029.5" y="654">□42 MAX 4500rpm</text>
<text x="916" y="905.5">J214</text><text x="920" y="597">J202</text>
<text x="837" y="944.7">W2P</text><text x="891" y="944.7">J221</text><text x="891" y="959">J251</text><text x="848" y="998">W2BK</text>
<text x="913.3" y="930.5">FLEXIBLE</text><text x="917.3" y="937.5">DUCT YT2</text><text x="937" y="976">J129</text>
<text x="961" y="940.5">W2  WP</text><text x="961" y="954.5">W2  WM</text><text x="961" y="969">BK  BK</text>
<text class="m" x="1010.7" y="956.5">M18</text><text x="1028" y="951.5">W2-AXIS 100W</text><text x="1029.5" y="962">□42 MAX 4500rpm</text>
</svg>
</body></html>
